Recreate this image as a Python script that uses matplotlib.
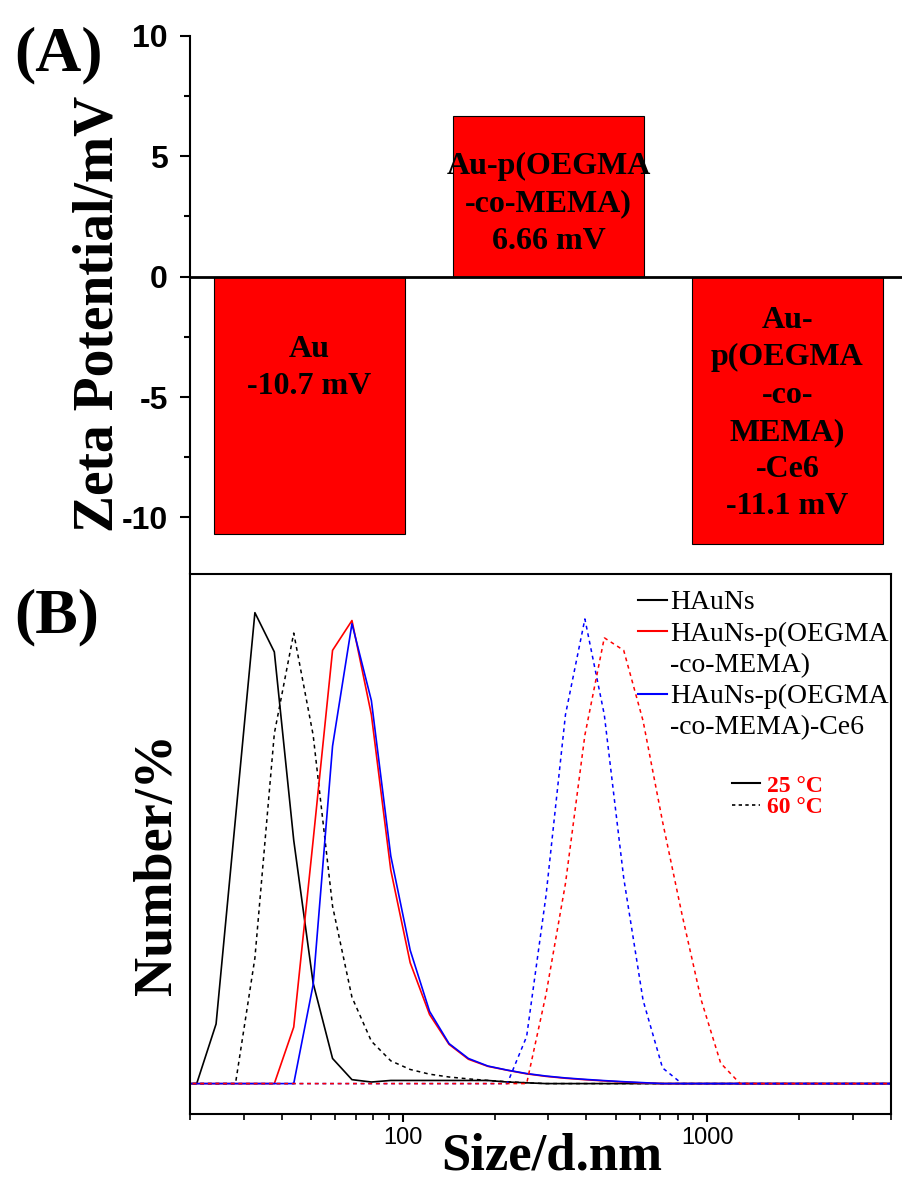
import matplotlib
matplotlib.use('Agg')
import matplotlib.pyplot as plt
from matplotlib import ticker
from matplotlib.lines import Line2D

plt.rcParams['axes.unicode_minus'] = False
SERIF = 'Liberation Serif'
SANS = 'Liberation Sans'

# (A) zeta potential
samples = ['Au', 'Au-p(OEGMA\n-co-MEMA)', 'Au-\np(OEGMA\n-co-\nMEMA)\n-Ce6']
zeta = [-10.7, 6.66, -11.1]

# (B) DLS number distribution, Malvern size bins (d.nm)
size_nm = [18.17, 21.04, 24.36, 28.21, 32.67, 37.84, 43.82, 50.75, 58.77, 68.06,
           78.82, 91.28, 105.7, 122.4, 141.8, 164.2, 190.1, 220.2, 255.0, 295.3,
           342.0, 396.1, 458.7, 531.2, 615.1, 712.4, 825.0, 955.4, 1106, 1281,
           1484, 1718, 1990, 2305, 2669, 3091, 3580, 4145]
hauns_25 = [0, 0, 3.8, 16.9, 30.0, 27.5, 15.5, 6.4, 1.6, 0.25,
            0.1, 0.2, 0.2, 0.2, 0.2, 0.2, 0.2, 0.1, 0.05, 0,
            0, 0, 0, 0, 0, 0, 0, 0, 0, 0, 0, 0, 0, 0, 0, 0, 0, 0]
hauns_60 = [0, 0, 0, 0, 8.0, 22.3, 28.7, 22.2, 11.3, 5.5,
            2.7, 1.45, 0.9, 0.6, 0.42, 0.3, 0.2, 0.12, 0.05, 0,
            0, 0, 0, 0, 0, 0, 0, 0, 0, 0, 0, 0, 0, 0, 0, 0, 0, 0]
poly_25 = [0, 0, 0, 0, 0, 0, 3.6, 15.5, 27.6, 29.5,
           23.5, 13.6, 7.7, 4.4, 2.5, 1.55, 1.1, 0.85, 0.62, 0.46,
           0.34, 0.25, 0.17, 0.1, 0.04, 0, 0, 0, 0, 0, 0, 0, 0, 0, 0, 0, 0, 0]
poly_60 = [0, 0, 0, 0, 0, 0, 0, 0, 0, 0,
           0, 0, 0, 0, 0, 0, 0, 0, 0, 5.7,
           12.75, 22.2, 28.4, 27.6, 23.1, 16.7, 10.8, 5.3, 1.3, 0,
           0, 0, 0, 0, 0, 0, 0, 0]
ce6_25 = [0, 0, 0, 0, 0, 0, 0, 6.3, 21.5, 29.3,
          24.4, 14.5, 8.5, 4.6, 2.55, 1.6, 1.12, 0.86, 0.64, 0.48,
          0.36, 0.27, 0.19, 0.12, 0.06, 0, 0, 0, 0, 0, 0, 0, 0, 0, 0, 0, 0, 0]
ce6_60 = [0, 0, 0, 0, 0, 0, 0, 0, 0, 0,
          0, 0, 0, 0, 0, 0, 0, 0, 3.0, 12.0,
          23.5, 29.6, 23.5, 13.1, 5.3, 1.0, 0, 0, 0, 0,
          0, 0, 0, 0, 0, 0, 0, 0]

fig = plt.figure(figsize=(9.03, 11.82), dpi=100)
W, H = 903, 1182

# ---------------- panel A ----------------
ax1 = fig.add_axes([190 / W, 1 - 573 / H, (907 - 190) / W, (573 - 35.9) / H])
pos = list(range(len(zeta)))
ax1.bar(pos, zeta, width=0.8, color='#ff0000', edgecolor='black', linewidth=0.8, zorder=2)
ax1.axhline(0, color='black', lw=2, zorder=3)
ax1.set_xlim(-0.5, 2.5)
ax1.set_ylim(-12.31, 10)
for s in ['top', 'right', 'bottom']:
    ax1.spines[s].set_visible(False)
ax1.spines['left'].set_linewidth(1.5)
ax1.set_xticks([])
ax1.yaxis.set_major_locator(ticker.MultipleLocator(5))
ax1.yaxis.set_minor_locator(ticker.MultipleLocator(2.5))
ax1.tick_params(axis='y', which='major', length=7, width=1.5, pad=9, labelsize=23)
ax1.tick_params(axis='y', which='minor', length=4, width=1.5)
for lab in ax1.get_yticklabels():
    lab.set_fontfamily(SANS)
    lab.set_fontweight('bold')

label_y = [-3.78, 3.02, -5.69]
for i, (name, v) in enumerate(zip(samples, zeta)):
    ax1.text(i, label_y[i], f'{name}\n{v:g} mV', ha='center', va='center',
             family=SERIF, weight='bold', fontsize=23, linespacing=1.37, zorder=4)

fig.text(99 / W, 1 - 314 / H, 'Zeta Potential/mV', rotation=90, ha='center', va='center',
         family=SERIF, weight='bold', fontsize=40)
fig.text(14 / W, 1 - 55 / H, '(A)', ha='left', va='center', family=SERIF, weight='bold', fontsize=46)

# ---------------- panel B ----------------
ax2 = fig.add_axes([190 / W, 1 - 1114.2 / H, 700.7 / W, 540.3 / H])
dash = (0, (2.5, 2.5))
ax2.plot(size_nm, hauns_25, color='black', lw=1.2)
ax2.plot(size_nm, hauns_60, color='black', lw=1.1, ls=dash)
ax2.plot(size_nm, poly_25, color='#ff0000', lw=1.2)
ax2.plot(size_nm, ce6_25, color='#0000ff', lw=1.2)
ax2.plot(size_nm, ce6_60, color='#0000ff', lw=1.1, ls=dash)
ax2.plot(size_nm, poly_60, color='#ff0000', lw=1.1, ls=dash)
ax2.set_xscale('log')
ax2.set_xlim(20, 4000)
ax2.set_ylim(-1.95, 32.47)
ax2.set_yticks([])
for s in ax2.spines.values():
    s.set_linewidth(1.5)
ax2.xaxis.set_major_locator(ticker.LogLocator(base=10))
ax2.xaxis.set_minor_locator(ticker.LogLocator(base=10, subs=range(2, 10)))
ax2.xaxis.set_major_formatter(ticker.FuncFormatter(lambda x, p: f'{x:g}'))
ax2.xaxis.set_minor_formatter(ticker.NullFormatter())
ax2.tick_params(axis='x', which='major', length=6, width=1.5, pad=3, labelsize=17)
ax2.tick_params(axis='x', which='minor', length=4, width=1.2)
for lab in ax2.get_xticklabels():
    lab.set_fontfamily(SANS)

blank = Line2D([], [], color='none')
h1 = [Line2D([], [], color='black', lw=1.5), Line2D([], [], color='#ff0000', lw=1.5), blank,
      Line2D([], [], color='#0000ff', lw=1.5), blank]
l1 = ['HAuNs', 'HAuNs-p(OEGMA', '-co-MEMA)', 'HAuNs-p(OEGMA', '-co-MEMA)-Ce6']
leg1 = ax2.legend(h1, l1, loc='upper left', bbox_to_anchor=((638 - 190) / 700.7, (1114.2 - 590) / 540.3),
                  frameon=False, borderpad=0, borderaxespad=0, handlelength=1.05, handletextpad=0.1,
                  labelspacing=0.21, prop={'family': SERIF, 'size': 20})
ax2.add_artist(leg1)

h2 = [Line2D([], [], color='black', lw=1.5), Line2D([], [], color='black', lw=1.2, ls=(0, (2, 2)))]
leg2 = ax2.legend(h2, ['25 °C', '60 °C'], loc='upper left',
                  bbox_to_anchor=((731.7 - 190) / 700.7, (1114.2 - 775) / 540.3),
                  frameon=False, borderpad=0, borderaxespad=0, handlelength=1.2, handletextpad=0.3,
                  labelspacing=0.0, prop={'family': SERIF, 'size': 17, 'weight': 'bold'})
for t in leg2.get_texts():
    t.set_color('#ff0000')

fig.text(158 / W, 1 - 864 / H, 'Number/%', rotation=90, ha='center', va='center',
         family=SERIF, weight='bold', fontsize=39)
fig.text(552 / W, 1 - 1157 / H, 'Size/d.nm', ha='center', va='center',
         family=SERIF, weight='bold', fontsize=38)
fig.text(14 / W, 1 - 617 / H, '(B)', ha='left', va='center', family=SERIF, weight='bold', fontsize=46)

fig.savefig('out.png', dpi=100)
